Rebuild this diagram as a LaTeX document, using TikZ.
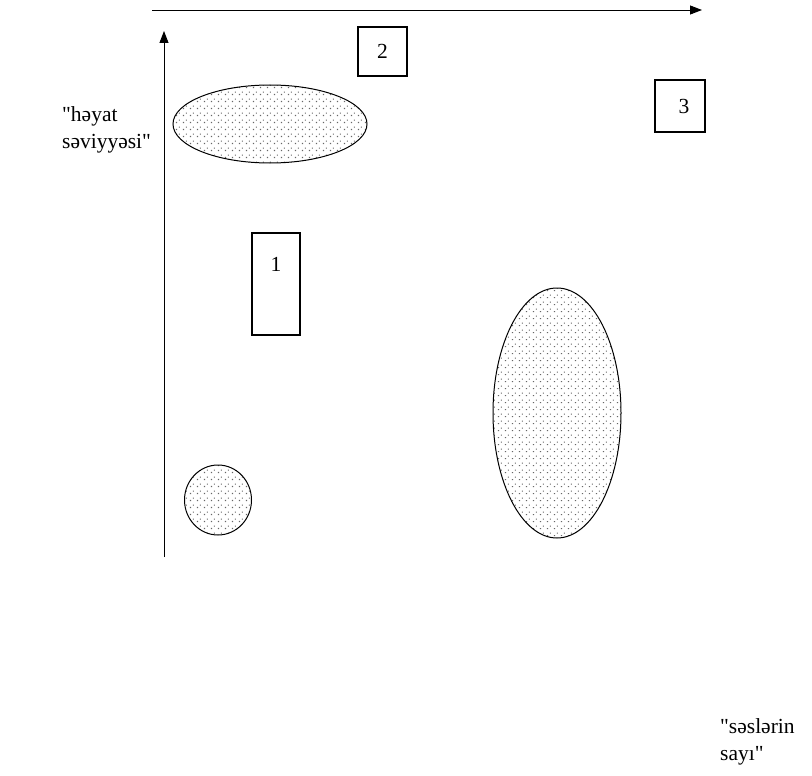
\documentclass[tikz,border=0pt]{standalone}
\usepackage{fontspec}
\setmainfont{Liberation Serif}[Ligatures=TeXOff]
\usetikzlibrary{shapes.geometric,arrows.meta,patterns.meta}

\tikzdeclarepattern{
  name=sparsedots,
  type=uncolored,
  bounding box={(0pt,0pt) and (7pt,7pt)},
  tile size={(7pt,7pt)},
  code={\fill (1pt,2pt) rectangle (2.4pt,3.4pt);
        \fill (4.5pt,5pt) rectangle (5.6pt,6.1pt);}
}

\begin{document}
\begin{tikzpicture}[x=1pt,y=-1pt,
        every node/.style={font=\fontsize{21.5pt}{27pt}\selectfont},
        numbox/.style={draw, line width=1.2pt, inner sep=0pt},
        cloud/.style={ellipse, draw, line width=1pt, inner sep=0pt, pattern={sparsedots}, pattern color=black!60},
        axis/.style={line width=0.9pt, -{Triangle[length=12pt,width=9pt]}}
      ]
        \useasboundingbox (0,0) rectangle (812,776);
        % axes
        \coordinate (xstart) at (152,10);
        \coordinate (xend) at (702,10);
        \coordinate (ystart) at (164,557);
        \coordinate (yend) at (164,31);
        \draw[axis] (xstart) -- (xend);
        \draw[axis] (ystart) -- (yend);
        % groups
        \node[cloud, minimum width=194pt, minimum height=78pt] (upper) at (270,124) {};
        \node[cloud, minimum width=128pt, minimum height=250pt] (big) at (557,413) {};
        \node[cloud, minimum width=67pt, minimum height=70pt] (small) at (218,500) {};
        % numbered boxes
        \node[numbox, minimum width=49pt, minimum height=49pt] (two) at (382.5,51.5) {\raisebox{-3pt}{2}};
        \node[numbox, minimum width=50pt, minimum height=52pt] (three) at (680,106) {\hspace{8pt}3};
        \node[numbox, minimum width=48pt, minimum height=102pt] (one) at (276,284) {\raisebox{40pt}{1}};
        % axis labels
        \node[anchor=north west, align=left, inner sep=0pt] (level) at (62,106) {"həyat\\səviyyəsi"};
        \node[anchor=north west, align=left, inner sep=0pt] (votes) at (720,718) {"səslərin\\sayı"};
      \end{tikzpicture}
\end{document}
